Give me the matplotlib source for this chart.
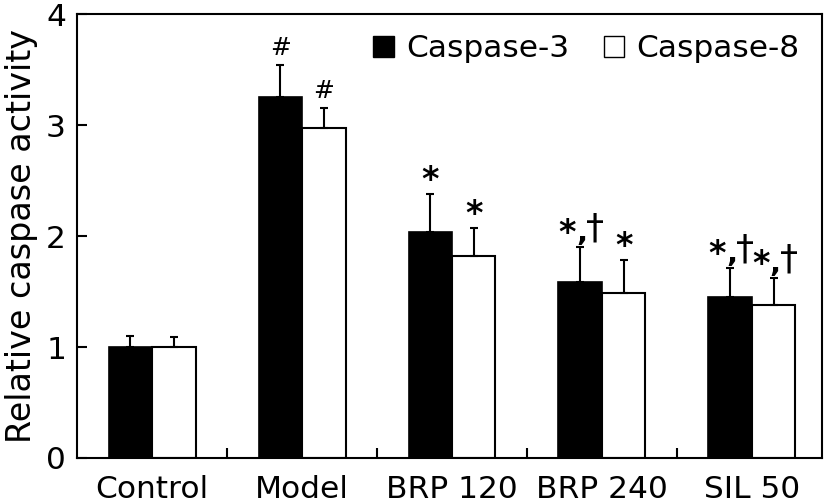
import matplotlib
matplotlib.use("Agg")
import matplotlib.pyplot as plt
from matplotlib.patches import Patch
import numpy as np

plt.rcParams['font.family'] = ['DejaVu Sans']

groups = ["Control", "Model", "BRP 120", "BRP 240", "SIL 50"]
casp3 = [1.00, 3.25, 2.04, 1.59, 1.45]
casp3_sd = [0.10, 0.29, 0.34, 0.31, 0.26]
casp8 = [1.00, 2.97, 1.82, 1.49, 1.38]
casp8_sd = [0.09, 0.18, 0.25, 0.29, 0.24]
casp3_marks = ["", "#", "*", "*,†", "*,†"]
casp8_marks = ["", "#", "*", "*", "*,†"]

FS = 22.5

fig = plt.figure(figsize=(8.29, 5.04), dpi=100)
ax = fig.add_axes([0.093, 0.0913, 0.8985, 0.8807])

x = np.arange(len(groups))
w = 0.29
ekw = dict(ecolor="black", elinewidth=1.5, capsize=3, capthick=1.5)
ax.bar(x - w/2, casp3, w, color="black", edgecolor="black", linewidth=1.2,
       yerr=[np.zeros(len(casp3)), casp3_sd], error_kw=ekw)
ax.bar(x + w/2, casp8, w, color="white", edgecolor="black", linewidth=1.5,
       yerr=[np.zeros(len(casp8)), casp8_sd], error_kw=ekw)

def mark(xp, top, s):
    if not s:
        return
    if s == "#":
        ax.annotate(s, (xp, top), xytext=(0, 4), textcoords="offset points",
                    ha="center", va="bottom", fontsize=18)
    elif s == "*":
        ax.annotate(s, (xp, top), xytext=(0, -2), textcoords="offset points",
                    ha="center", va="bottom", fontsize=24, fontweight="bold")
    else:
        ax.annotate("*", (xp, top), xytext=(-3, -2), textcoords="offset points",
                    ha="right", va="bottom", fontsize=24, fontweight="bold")
        ax.annotate(",", (xp, top), xytext=(1, 0), textcoords="offset points",
                    ha="center", va="bottom", fontsize=21, fontweight="bold")
        ax.annotate("†", (xp, top), xytext=(11, 1), textcoords="offset points",
                    ha="center", va="bottom", fontsize=26)

for i in range(len(groups)):
    mark(x[i] - w/2, casp3[i] + casp3_sd[i], casp3_marks[i])
    mark(x[i] + w/2, casp8[i] + casp8_sd[i], casp8_marks[i])

ax.set_xlim(-0.5, 4.467)
ax.set_ylim(0, 4)
ax.set_yticks([0, 1, 2, 3, 4])
ax.set_xticks(x)
ax.set_xticklabels(groups)
ax.set_xticks([0.5, 1.5, 2.5, 3.5], minor=True)
ax.tick_params(axis="x", which="major", length=0, pad=12, labelsize=FS)
ax.tick_params(axis="x", which="minor", direction="in", length=7, width=1.5)
ax.tick_params(axis="y", direction="in", length=7, width=1.5, pad=8, labelsize=FS)
for sp in ax.spines.values():
    sp.set_linewidth(1.5)
ax.set_ylabel("Relative caspase activity", fontsize=24, labelpad=6)

handles = [Patch(facecolor="black", edgecolor="black"),
           Patch(facecolor="white", edgecolor="black")]
ax.legend(handles, ["Caspase-3", "Caspase-8"], ncol=2, loc="upper right",
          bbox_to_anchor=(0.97, 0.955), frameon=False, fontsize=FS,
          handlelength=0.65, handleheight=0.65, handletextpad=0.4,
          columnspacing=1.1, borderpad=0, borderaxespad=0)

fig.savefig("out.png", dpi=100)
